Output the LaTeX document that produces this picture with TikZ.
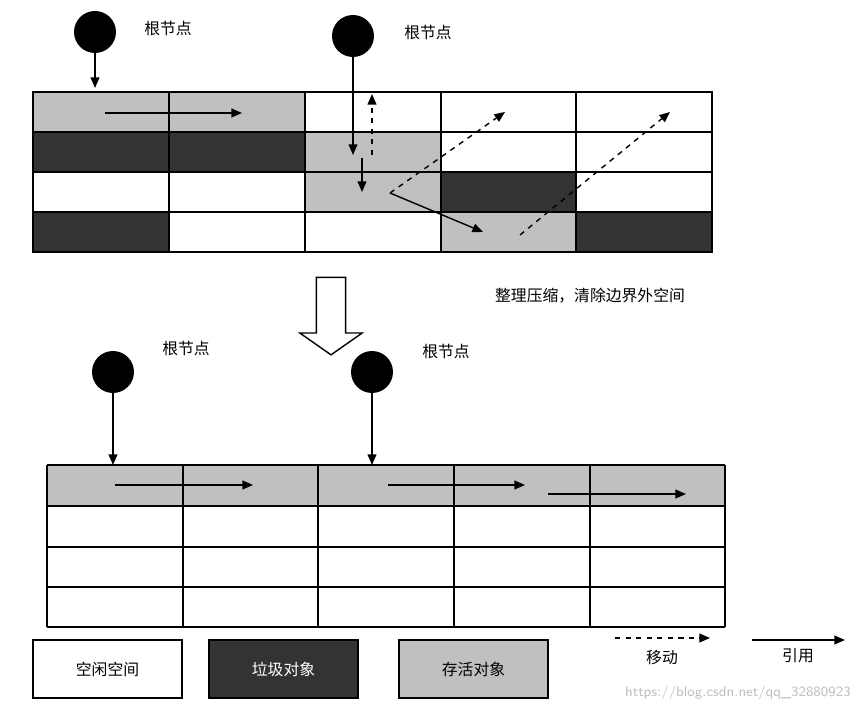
\documentclass[tikz,border=0pt]{standalone}
\usepackage{fontspec}
\newfontfamily\cjk{Noto Sans CJK SC}
\usetikzlibrary{arrows.meta,shapes.arrows}
\definecolor{gr}{HTML}{C0C0C0}
\definecolor{dk}{HTML}{333333}
\begin{document}
\begin{tikzpicture}[x=0.02cm,y=-0.02cm,font=\cjk\fontsize{9}{11}\selectfont,
  root/.style={circle,fill=black,minimum size=0.84cm,inner sep=0},
  cellw/.style={draw=black,line width=0.8pt},
  ref/.style={-{Triangle[length=6pt,width=5pt]},line width=0.8pt},
  mv/.style={ref,dashed},
  lbl/.style={inner sep=0}]
\useasboundingbox (0,0) rectangle (866,712);
% top grid
\def\xs{{33,169,305,441,576,712}}
\def\ys{{92,132,172,212,252}}
\foreach \r/\row in {0/{1,1,0,0,0},1/{2,2,1,0,0},2/{0,0,1,2,0},3/{2,0,0,1,2}}{
  \foreach \c [count=\ci from 0] in \row {
    \pgfmathsetmacro\xa{\xs[\ci]}\pgfmathsetmacro\xb{\xs[\ci+1]}
    \pgfmathsetmacro\ya{\ys[\r]}\pgfmathsetmacro\yb{\ys[\r+1]}
    \ifcase\c \def\fc{white}\or\def\fc{gr}\or\def\fc{dk}\fi
    \draw[cellw,fill=\fc] (\xa,\ya) rectangle (\xb,\yb);
  }}
\node[root] (r1) at (95,32) {};
\node[root] (r2) at (353,36) {};
\node[lbl] (l1) at (168,28) {根节点};
\node[lbl] (l2) at (428,32) {根节点};
\coordinate (t1) at (95,88);
\draw[ref] (r1) -- (t1);
\coordinate (a1) at (105,113); \coordinate (a2) at (242,113);
\draw[ref] (a1) -- (a2);
\coordinate (b1) at (353,155);
\draw[ref] (r2) -- (b1);
\coordinate (c1) at (372,155); \coordinate (c2) at (372,94);
\draw[mv] (c1) -- (c2);
\coordinate (d1) at (362,158); \coordinate (d2) at (362,192);
\draw[ref] (d1) -- (d2);
\coordinate (e1) at (390,193); \coordinate (e2) at (483,232); \coordinate (e3) at (505,112);
\draw[ref] (e1) -- (e2);
\draw[mv] (e1) -- (e3);
\coordinate (f1) at (520,235); \coordinate (f2) at (670,112);
\draw[mv] (f1) -- (f2);
% hollow arrow
\node[single arrow,draw,line width=0.8pt,fill=white,shape border rotate=270,minimum width=1.25cm,single arrow head extend=0.15cm,minimum height=1.55cm,single arrow tip angle=110] (ha) at (331,311) {};
\node[lbl] (note) at (590,296) {整理压缩，清除边界外空间};
% bottom
\node[root] (r3) at (113,372) {};
\node[root] (r4) at (372,372) {};
\node[lbl] (l3) at (186,348) {根节点};
\node[lbl] (l4) at (446,351) {根节点};
\fill[gr] (47,465) rectangle (725,506);
\foreach \x in {47,183,318,454,590,725} \draw[cellw] (\x,465) -- (\x,627);
\foreach \y in {465,506,547,587,627} \draw[cellw] (47,\y) -- (725,\y);
\coordinate (g1) at (113,465); \coordinate (g2) at (372,465);
\draw[ref] (r3) -- (g1);
\draw[ref] (r4) -- (g2);
\coordinate (h1) at (115,485); \coordinate (h2) at (253,485);
\coordinate (h3) at (388,485); \coordinate (h4) at (525,485);
\coordinate (h5) at (548,494); \coordinate (h6) at (686,494);
\draw[ref] (h1) -- (h2); \draw[ref] (h3) -- (h4); \draw[ref] (h5) -- (h6);
% legend
\node[draw,line width=0.8pt,fill=white,minimum width=2.98cm,minimum height=1.16cm] (k1) at (107.5,669) {空闲空间};
\node[draw,line width=0.8pt,fill=dk,text=white,minimum width=2.98cm,minimum height=1.16cm] (k2) at (283.5,669) {垃圾对象};
\node[draw,line width=0.8pt,fill=gr,minimum width=2.98cm,minimum height=1.16cm] (k3) at (473.5,669) {存活对象};
\coordinate (m1) at (615,638); \coordinate (m2) at (710,638);
\draw[mv] (m1) -- (m2);
\node[lbl] (ml) at (662,658) {移动};
\coordinate (n1) at (752,640); \coordinate (n2) at (845,640);
\draw[ref] (n1) -- (n2);
\node[lbl] (nl) at (798,656) {引用};
\node[lbl,text=black!25,font=\sffamily\fontsize{8}{9}\selectfont] (wm) at (738,693) {https://blog.csdn.net/qq\_32880923};
\end{tikzpicture}
\end{document}
